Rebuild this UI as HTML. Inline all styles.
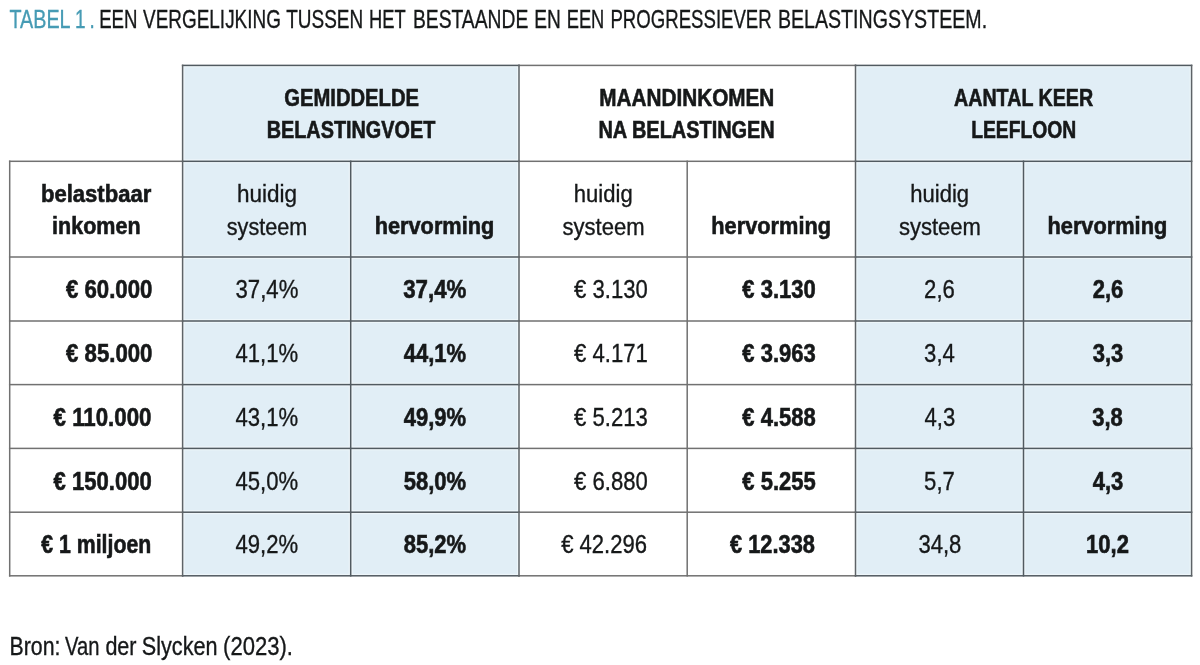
<!DOCTYPE html>
<html><head><meta charset="utf-8"><style>
html,body{margin:0;padding:0;background:#fff;width:1200px;height:665px;overflow:hidden}
svg{display:block;will-change:transform}
text{font-family:"Liberation Sans",sans-serif;white-space:pre}
</style></head><body>
<svg width="1200" height="665" viewBox="0 0 1200 665">
<rect x="182.6" y="65.4" width="336.40" height="510.40" fill="#e1eef6"/>
<rect x="855.5" y="65.4" width="336.10" height="510.40" fill="#e1eef6"/>
<defs><clipPath id="bc"><rect x="182.6" y="65.4" width="336.40" height="510.40"/><rect x="855.5" y="65.4" width="336.10" height="510.40"/></clipPath></defs><g clip-path="url(#bc)">
<rect x="182.60" y="63.45" width="336.40" height="3.90" fill="#eef6fa"/>
<rect x="182.60" y="159.35" width="336.40" height="3.90" fill="#eef6fa"/>
<rect x="182.60" y="255.05" width="336.40" height="3.90" fill="#eef6fa"/>
<rect x="182.60" y="319.05" width="336.40" height="3.90" fill="#eef6fa"/>
<rect x="182.60" y="382.65" width="336.40" height="3.90" fill="#eef6fa"/>
<rect x="182.60" y="446.45" width="336.40" height="3.90" fill="#eef6fa"/>
<rect x="182.60" y="510.25" width="336.40" height="3.90" fill="#eef6fa"/>
<rect x="182.60" y="573.85" width="336.40" height="3.90" fill="#eef6fa"/>
<rect x="855.50" y="63.45" width="336.10" height="3.90" fill="#eef6fa"/>
<rect x="855.50" y="159.35" width="336.10" height="3.90" fill="#eef6fa"/>
<rect x="855.50" y="255.05" width="336.10" height="3.90" fill="#eef6fa"/>
<rect x="855.50" y="319.05" width="336.10" height="3.90" fill="#eef6fa"/>
<rect x="855.50" y="382.65" width="336.10" height="3.90" fill="#eef6fa"/>
<rect x="855.50" y="446.45" width="336.10" height="3.90" fill="#eef6fa"/>
<rect x="855.50" y="510.25" width="336.10" height="3.90" fill="#eef6fa"/>
<rect x="855.50" y="573.85" width="336.10" height="3.90" fill="#eef6fa"/>
<rect x="180.65" y="65.40" width="3.90" height="510.40" fill="#eef6fa"/>
<rect x="348.75" y="161.30" width="3.90" height="414.50" fill="#eef6fa"/>
<rect x="517.05" y="65.40" width="3.90" height="510.40" fill="#eef6fa"/>
<rect x="853.55" y="65.40" width="3.90" height="510.40" fill="#eef6fa"/>
<rect x="1021.55" y="161.30" width="3.90" height="414.50" fill="#eef6fa"/>
<rect x="1189.65" y="65.40" width="3.90" height="510.40" fill="#eef6fa"/>
</g>
<rect x="181.85" y="64.65" width="337.90" height="1.5" fill="#515a60"/>
<rect x="518.25" y="64.65" width="338.00" height="1.5" fill="#717171"/>
<rect x="854.75" y="64.65" width="337.60" height="1.5" fill="#515a60"/>
<rect x="8.95" y="160.55" width="174.40" height="1.5" fill="#717171"/>
<rect x="181.85" y="160.55" width="337.90" height="1.5" fill="#515a60"/>
<rect x="518.25" y="160.55" width="338.00" height="1.5" fill="#717171"/>
<rect x="854.75" y="160.55" width="337.60" height="1.5" fill="#515a60"/>
<rect x="8.95" y="256.25" width="174.40" height="1.5" fill="#717171"/>
<rect x="181.85" y="256.25" width="337.90" height="1.5" fill="#515a60"/>
<rect x="518.25" y="256.25" width="338.00" height="1.5" fill="#717171"/>
<rect x="854.75" y="256.25" width="337.60" height="1.5" fill="#515a60"/>
<rect x="8.95" y="320.25" width="174.40" height="1.5" fill="#717171"/>
<rect x="181.85" y="320.25" width="337.90" height="1.5" fill="#515a60"/>
<rect x="518.25" y="320.25" width="338.00" height="1.5" fill="#717171"/>
<rect x="854.75" y="320.25" width="337.60" height="1.5" fill="#515a60"/>
<rect x="8.95" y="383.85" width="174.40" height="1.5" fill="#717171"/>
<rect x="181.85" y="383.85" width="337.90" height="1.5" fill="#515a60"/>
<rect x="518.25" y="383.85" width="338.00" height="1.5" fill="#717171"/>
<rect x="854.75" y="383.85" width="337.60" height="1.5" fill="#515a60"/>
<rect x="8.95" y="447.65" width="174.40" height="1.5" fill="#717171"/>
<rect x="181.85" y="447.65" width="337.90" height="1.5" fill="#515a60"/>
<rect x="518.25" y="447.65" width="338.00" height="1.5" fill="#717171"/>
<rect x="854.75" y="447.65" width="337.60" height="1.5" fill="#515a60"/>
<rect x="8.95" y="511.45" width="174.40" height="1.5" fill="#717171"/>
<rect x="181.85" y="511.45" width="337.90" height="1.5" fill="#515a60"/>
<rect x="518.25" y="511.45" width="338.00" height="1.5" fill="#717171"/>
<rect x="854.75" y="511.45" width="337.60" height="1.5" fill="#515a60"/>
<rect x="8.95" y="575.05" width="174.40" height="1.5" fill="#717171"/>
<rect x="181.85" y="575.05" width="337.90" height="1.5" fill="#515a60"/>
<rect x="518.25" y="575.05" width="338.00" height="1.5" fill="#717171"/>
<rect x="854.75" y="575.05" width="337.60" height="1.5" fill="#515a60"/>
<rect x="8.95" y="160.55" width="1.5" height="416.00" fill="#717171"/>
<rect x="181.85" y="64.65" width="1.5" height="511.90" fill="#5e6367"/>
<rect x="349.95" y="160.55" width="1.5" height="416.00" fill="#515a60"/>
<rect x="518.25" y="64.65" width="1.5" height="511.90" fill="#5e6367"/>
<rect x="686.45" y="160.55" width="1.5" height="416.00" fill="#717171"/>
<rect x="854.75" y="64.65" width="1.5" height="511.90" fill="#5e6367"/>
<rect x="1022.75" y="160.55" width="1.5" height="416.00" fill="#515a60"/>
<rect x="1190.85" y="64.65" width="1.5" height="511.90" fill="#5e6367"/>
<text transform="translate(9.50 28.30) scale(0.7590 1)" font-weight="normal" font-size="26" fill="#469bb4" stroke="#469bb4" stroke-width="0.35">TABEL</text>
<text transform="translate(99.16 28.30) scale(0.7175 1)" font-weight="normal" font-size="26" fill="#161819" stroke="#161819" stroke-width="0.35">EEN</text>
<text transform="translate(143.10 28.30) scale(0.7280 1)" font-weight="normal" font-size="26" fill="#161819" stroke="#161819" stroke-width="0.35">VERGELIJKING</text>
<text transform="translate(286.25 28.30) scale(0.7296 1)" font-weight="normal" font-size="26" fill="#161819" stroke="#161819" stroke-width="0.35">TUSSEN</text>
<text transform="translate(369.09 28.30) scale(0.7063 1)" font-weight="normal" font-size="26" fill="#161819" stroke="#161819" stroke-width="0.35">HET</text>
<text transform="translate(412.92 28.30) scale(0.7421 1)" font-weight="normal" font-size="26" fill="#161819" stroke="#161819" stroke-width="0.35">BESTAANDE</text>
<text transform="translate(534.13 28.30) scale(0.7359 1)" font-weight="normal" font-size="26" fill="#161819" stroke="#161819" stroke-width="0.35">EN</text>
<text transform="translate(566.69 28.30) scale(0.7045 1)" font-weight="normal" font-size="26" fill="#161819" stroke="#161819" stroke-width="0.35">EEN</text>
<text transform="translate(610.47 28.30) scale(0.7158 1)" font-weight="normal" font-size="26" fill="#161819" stroke="#161819" stroke-width="0.35">PROGRESSIEVER</text>
<text transform="translate(777.89 28.30) scale(0.7548 1)" font-weight="normal" font-size="26" fill="#161819" stroke="#161819" stroke-width="0.35">BELASTINGSYSTEEM.</text>
<text transform="translate(75.12 28.30) scale(0.7300 1)" font-weight="normal" font-size="26" fill="#469bb4" stroke="#469bb4" stroke-width="0.35">1</text>
<text transform="translate(89.54 28.30) scale(0.7300 1)" font-weight="normal" font-size="26" fill="#469bb4" stroke="#469bb4" stroke-width="0.35">.</text>
<text transform="translate(284.20 105.50) scale(0.8572 1)" font-weight="bold" font-size="23.6" fill="#161819" stroke="#161819" stroke-width="0.6">GEMIDDELDE</text>
<text transform="translate(266.66 137.70) scale(0.8409 1)" font-weight="bold" font-size="23.6" fill="#161819" stroke="#161819" stroke-width="0.6">BELASTINGVOET</text>
<text transform="translate(599.32 105.60) scale(0.8784 1)" font-weight="bold" font-size="23.6" fill="#161819" stroke="#161819" stroke-width="0.6">MAANDINKOMEN</text>
<text transform="translate(598.41 137.70) scale(0.8448 1)" font-weight="bold" font-size="23.6" fill="#161819" stroke="#161819" stroke-width="0.6">NA BELASTINGEN</text>
<text transform="translate(954.00 105.50) scale(0.8339 1)" font-weight="bold" font-size="23.6" fill="#161819" stroke="#161819" stroke-width="0.6">AANTAL KEER</text>
<text transform="translate(971.18 137.70) scale(0.8187 1)" font-weight="bold" font-size="23.6" fill="#161819" stroke="#161819" stroke-width="0.6">LEEFLOON</text>
<text transform="translate(40.98 201.90) scale(0.9190 1)" font-weight="bold" font-size="24" fill="#161819" stroke="#161819" stroke-width="0.6">belastbaar</text>
<text transform="translate(52.10 234.40) scale(0.8967 1)" font-weight="bold" font-size="24" fill="#161819" stroke="#161819" stroke-width="0.6">inkomen</text>
<text transform="translate(236.96 201.80) scale(0.9383 1)" font-weight="normal" font-size="24" fill="#161819" stroke="#161819" stroke-width="0.35">huidig</text>
<text transform="translate(226.80 234.50) scale(0.8997 1)" font-weight="normal" font-size="24" fill="#161819" stroke="#161819" stroke-width="0.35">systeem</text>
<text transform="translate(374.69 234.40) scale(0.9063 1)" font-weight="bold" font-size="24" fill="#161819" stroke="#161819" stroke-width="0.6">hervorming</text>
<text transform="translate(573.83 201.80) scale(0.9190 1)" font-weight="normal" font-size="24" fill="#161819" stroke="#161819" stroke-width="0.35">huidig</text>
<text transform="translate(562.50 234.50) scale(0.9190 1)" font-weight="normal" font-size="24" fill="#161819" stroke="#161819" stroke-width="0.35">systeem</text>
<text transform="translate(711.30 234.40) scale(0.9073 1)" font-weight="bold" font-size="24" fill="#161819" stroke="#161819" stroke-width="0.6">hervorming</text>
<text transform="translate(910.23 201.80) scale(0.9190 1)" font-weight="normal" font-size="24" fill="#161819" stroke="#161819" stroke-width="0.35">huidig</text>
<text transform="translate(898.90 234.50) scale(0.9190 1)" font-weight="normal" font-size="24" fill="#161819" stroke="#161819" stroke-width="0.35">systeem</text>
<text transform="translate(1047.50 234.40) scale(0.9073 1)" font-weight="bold" font-size="24" fill="#161819" stroke="#161819" stroke-width="0.6">hervorming</text>
<text transform="translate(66.00 298.20) scale(0.8879 1)" font-weight="bold" font-size="25" fill="#161819" stroke="#161819" stroke-width="0.6">€ 60.000</text>
<text transform="translate(235.50 298.20) scale(0.8874 1)" font-weight="normal" font-size="25" fill="#161819" stroke="#161819" stroke-width="0.35">37,4%</text>
<text transform="translate(403.20 298.20) scale(0.8916 1)" font-weight="bold" font-size="25" fill="#161819" stroke="#161819" stroke-width="0.6">37,4%</text>
<text transform="translate(574.02 298.20) scale(0.8845 1)" font-weight="normal" font-size="25" fill="#161819" stroke="#161819" stroke-width="0.35">€ 3.130</text>
<text transform="translate(742.31 298.20) scale(0.8810 1)" font-weight="bold" font-size="25" fill="#161819" stroke="#161819" stroke-width="0.6">€ 3.130</text>
<text transform="translate(924.09 298.20) scale(0.8845 1)" font-weight="normal" font-size="25" fill="#161819" stroke="#161819" stroke-width="0.35">2,6</text>
<text transform="translate(1092.64 298.20) scale(0.8810 1)" font-weight="bold" font-size="25" fill="#161819" stroke="#161819" stroke-width="0.6">2,6</text>
<text transform="translate(66.00 362.00) scale(0.8889 1)" font-weight="bold" font-size="25" fill="#161819" stroke="#161819" stroke-width="0.6">€ 85.000</text>
<text transform="translate(235.40 362.00) scale(0.8845 1)" font-weight="normal" font-size="25" fill="#161819" stroke="#161819" stroke-width="0.35">41,1%</text>
<text transform="translate(403.73 362.00) scale(0.8810 1)" font-weight="bold" font-size="25" fill="#161819" stroke="#161819" stroke-width="0.6">44,1%</text>
<text transform="translate(574.02 362.00) scale(0.8845 1)" font-weight="normal" font-size="25" fill="#161819" stroke="#161819" stroke-width="0.35">€ 4.171</text>
<text transform="translate(742.31 362.00) scale(0.8810 1)" font-weight="bold" font-size="25" fill="#161819" stroke="#161819" stroke-width="0.6">€ 3.963</text>
<text transform="translate(924.09 362.00) scale(0.8845 1)" font-weight="normal" font-size="25" fill="#161819" stroke="#161819" stroke-width="0.35">3,4</text>
<text transform="translate(1092.64 362.00) scale(0.8810 1)" font-weight="bold" font-size="25" fill="#161819" stroke="#161819" stroke-width="0.6">3,3</text>
<text transform="translate(53.60 425.80) scale(0.8914 1)" font-weight="bold" font-size="25" fill="#161819" stroke="#161819" stroke-width="0.6">€ 110.000</text>
<text transform="translate(235.40 425.80) scale(0.8845 1)" font-weight="normal" font-size="25" fill="#161819" stroke="#161819" stroke-width="0.35">43,1%</text>
<text transform="translate(403.73 425.80) scale(0.8810 1)" font-weight="bold" font-size="25" fill="#161819" stroke="#161819" stroke-width="0.6">49,9%</text>
<text transform="translate(574.02 425.80) scale(0.8845 1)" font-weight="normal" font-size="25" fill="#161819" stroke="#161819" stroke-width="0.35">€ 5.213</text>
<text transform="translate(742.31 425.80) scale(0.8810 1)" font-weight="bold" font-size="25" fill="#161819" stroke="#161819" stroke-width="0.6">€ 4.588</text>
<text transform="translate(924.53 425.80) scale(0.8845 1)" font-weight="normal" font-size="25" fill="#161819" stroke="#161819" stroke-width="0.35">4,3</text>
<text transform="translate(1092.20 425.80) scale(0.8810 1)" font-weight="bold" font-size="25" fill="#161819" stroke="#161819" stroke-width="0.6">3,8</text>
<text transform="translate(53.60 489.60) scale(0.8829 1)" font-weight="bold" font-size="25" fill="#161819" stroke="#161819" stroke-width="0.6">€ 150.000</text>
<text transform="translate(235.40 489.60) scale(0.8845 1)" font-weight="normal" font-size="25" fill="#161819" stroke="#161819" stroke-width="0.35">45,0%</text>
<text transform="translate(403.73 489.60) scale(0.8810 1)" font-weight="bold" font-size="25" fill="#161819" stroke="#161819" stroke-width="0.6">58,0%</text>
<text transform="translate(574.02 489.60) scale(0.8845 1)" font-weight="normal" font-size="25" fill="#161819" stroke="#161819" stroke-width="0.35">€ 6.880</text>
<text transform="translate(742.31 489.60) scale(0.8810 1)" font-weight="bold" font-size="25" fill="#161819" stroke="#161819" stroke-width="0.6">€ 5.255</text>
<text transform="translate(924.09 489.60) scale(0.8845 1)" font-weight="normal" font-size="25" fill="#161819" stroke="#161819" stroke-width="0.35">5,7</text>
<text transform="translate(1092.64 489.60) scale(0.8810 1)" font-weight="bold" font-size="25" fill="#161819" stroke="#161819" stroke-width="0.6">4,3</text>
<text transform="translate(41.25 553.40) scale(0.8516 1)" font-weight="bold" font-size="25" fill="#161819" stroke="#161819" stroke-width="0.6">€ 1 miljoen</text>
<text transform="translate(235.40 553.40) scale(0.8845 1)" font-weight="normal" font-size="25" fill="#161819" stroke="#161819" stroke-width="0.35">49,2%</text>
<text transform="translate(403.73 553.40) scale(0.8810 1)" font-weight="bold" font-size="25" fill="#161819" stroke="#161819" stroke-width="0.6">85,2%</text>
<text transform="translate(561.25 553.40) scale(0.8816 1)" font-weight="normal" font-size="25" fill="#161819" stroke="#161819" stroke-width="0.35">€ 42.296</text>
<text transform="translate(730.00 553.40) scale(0.8726 1)" font-weight="bold" font-size="25" fill="#161819" stroke="#161819" stroke-width="0.6">€ 12.338</text>
<text transform="translate(918.38 553.40) scale(0.8845 1)" font-weight="normal" font-size="25" fill="#161819" stroke="#161819" stroke-width="0.35">34,8</text>
<text transform="translate(1086.07 553.40) scale(0.8810 1)" font-weight="bold" font-size="25" fill="#161819" stroke="#161819" stroke-width="0.6">10,2</text>
<text transform="translate(9.55 654.60) scale(0.8511 1)" font-weight="normal" font-size="25" fill="#161819" stroke="#161819" stroke-width="0.35">Bron:</text>
<text transform="translate(65.00 654.60) scale(0.8089 1)" font-weight="normal" font-size="25" fill="#161819" stroke="#161819" stroke-width="0.35">Van</text>
<text transform="translate(105.39 654.60) scale(0.8619 1)" font-weight="normal" font-size="25" fill="#161819" stroke="#161819" stroke-width="0.35">der</text>
<text transform="translate(141.84 654.60) scale(0.8642 1)" font-weight="normal" font-size="25" fill="#161819" stroke="#161819" stroke-width="0.35">Slycken</text>
<text transform="translate(223.12 654.60) scale(0.8824 1)" font-weight="normal" font-size="25" fill="#161819" stroke="#161819" stroke-width="0.35">(2023).</text>
</svg>
</body></html>
